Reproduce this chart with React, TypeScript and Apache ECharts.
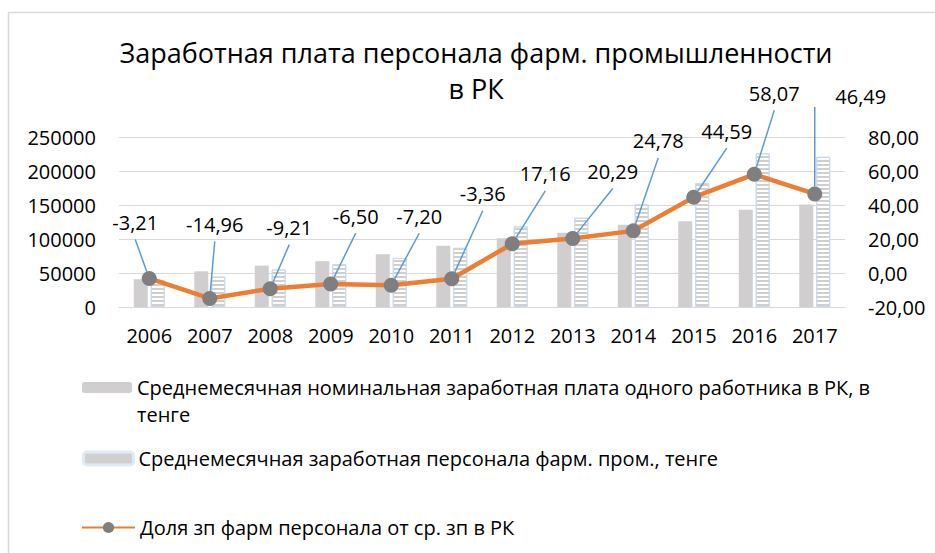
import React, { useEffect, useRef } from 'react';
import * as echarts from 'echarts';

const years = ['2006', '2007', '2008', '2009', '2010', '2011', '2012', '2013', '2014', '2015', '2016', '2017'];
const avgWageRK = [40790, 52479, 60805, 67333, 77611, 90028, 101263, 109141, 121021, 126021, 142898, 150827];
const pharmaWage = [39481, 44628, 55205, 62956, 72023, 87003, 118640, 131286, 151010, 182214, 225879, 220946];
const sharePct = [-3.21, -14.96, -9.21, -6.5, -7.2, -3.36, 17.16, 20.29, 24.78, 44.59, 58.07, 46.49];

const nameRK = 'Среднемесячная номинальная заработная плата одного работника в РК, в тенге';
const namePharma = 'Среднемесячная заработная персонала фарм. пром., тенге';
const nameShare = 'Доля зп фарм персонала от ср. зп в РК';
const titleText = 'Заработная плата персонала фарм. промышленности\nв РК';

// label placement offsets (px) relative to each marker centre
const labelOffsets = [
  [-14, -56], [5, -74], [19, -61], [25, -68], [28, -69], [31, -85],
  [33, -70], [40, -67], [25, -90], [33, -66], [20, -81], [0, -97],
];

const FONT = "'Open Sans', 'Noto Sans', sans-serif";
const fmt = (v: number) => v.toFixed(2).replace('.', ',');

// style of the last label: text shifted right of its vertical leader
const lastLabelStyle = {
  width: 2,
  padding: [0, 26, 0, 118],
  lineHeight: 2,
  backgroundColor: 'rgba(255,255,255,0)',
};

export default function App() {
  const ref = useRef<HTMLDivElement>(null);
  useEffect(() => {
    const chart = echarts.init(ref.current!, null, { renderer: 'svg' });
    const legendText = { fontFamily: FONT, fontSize: 20, color: '#000', lineHeight: 27 };
    const lastIdx = sharePct.length - 1;
    const option: any = {
      animation: false,
      backgroundColor: '#fff',
      graphic: [
        {
          type: 'rect',
          shape: { x: 8.5, y: 12.5, width: 1000, height: 700 },
          style: { fill: 'none', stroke: '#d9d9d9', lineWidth: 1.5 },
          silent: true,
        },
      ],
      title: {
        text: titleText,
        left: 476,
        top: 34,
        padding: 0,
        textAlign: 'center',
        textStyle: { fontFamily: FONT, fontSize: 27, fontWeight: 'normal', color: '#000', lineHeight: 36 },
      },
      legend: [
        {
          data: [nameRK],
          left: 82,
          top: 360,
          padding: 0,
          itemWidth: 50,
          itemHeight: 11,
          formatter: (n: string) => {
            const cut = n.lastIndexOf(' ');
            return '{a|' + n.slice(0, cut) + '}\n{b|' + n.slice(cut + 1) + '}';
          },
          textStyle: {
            ...legendText,
            rich: {
              a: { fontFamily: FONT, fontSize: 20, color: '#000', lineHeight: 54 },
              b: { fontFamily: FONT, fontSize: 20, color: '#000', lineHeight: 1 },
            },
          },
        },
        {
          data: [
            {
              name: namePharma,
              itemStyle: { color: '#d0d0d0', borderColor: '#e1eaf7', borderWidth: 3, decal: 'none' },
            },
          ],
          left: 82,
          top: 445,
          padding: 0,
          itemWidth: 50,
          itemHeight: 13,
          textStyle: legendText,
        },
        {
          data: [nameShare],
          left: 81,
          top: 514,
          padding: 0,
          itemWidth: 53,
          itemHeight: 14,
          textStyle: legendText,
        },
      ],
      grid: { left: 119, right: 90, top: 137, bottom: 246, containLabel: false },
      xAxis: {
        type: 'category',
        data: years,
        axisLine: { lineStyle: { color: '#d9d9d9', width: 1 } },
        axisTick: { show: false },
        axisLabel: { color: '#000', fontSize: 20, fontFamily: FONT, margin: 18 },
      },
      yAxis: [
        {
          type: 'value',
          min: 0,
          max: 250000,
          interval: 50000,
          axisLine: { show: false },
          axisTick: { show: false },
          splitLine: { lineStyle: { color: '#d9d9d9', width: 1 } },
          axisLabel: { color: '#000', fontSize: 20, fontFamily: FONT, margin: 23, formatter: (v: number) => String(v) },
        },
        {
          type: 'value',
          min: -20,
          max: 80,
          interval: 20,
          position: 'right',
          axisLine: { show: false },
          axisTick: { show: false },
          splitLine: { show: false },
          axisLabel: { color: '#000', fontSize: 20, fontFamily: FONT, margin: 23, formatter: fmt },
        },
      ],
      series: [
        {
          name: nameRK,
          type: 'bar',
          yAxisIndex: 0,
          data: avgWageRK,
          barWidth: 14,
          barGap: '21%',
          itemStyle: { color: '#d0cece' },
        },
        {
          name: namePharma,
          type: 'bar',
          yAxisIndex: 0,
          data: pharmaWage,
          barWidth: 14,
          itemStyle: {
            color: '#ffffff',
            borderColor: '#c9daf0',
            borderWidth: 1,
            decal: {
              symbol: 'rect',
              symbolSize: 1,
              symbolKeepAspect: false,
              color: '#cfcfcf',
              backgroundColor: '#ffffff',
              dashArrayX: [1, 0],
              dashArrayY: [2, 2],
              rotation: 0,
            },
          },
        },
        {
          name: nameShare,
          type: 'line',
          yAxisIndex: 1,
          data: sharePct.map((v, i) => (i === lastIdx ? { value: v, label: lastLabelStyle } : v)),
          symbol: 'circle',
          symbolSize: 15,
          z: 5,
          itemStyle: { color: '#7f7f7f' },
          lineStyle: { color: '#ed7d31', width: 4.5 },
          label: {
            show: true,
            formatter: (p: any) => fmt(p.value),
            fontFamily: FONT,
            fontSize: 20,
            color: '#000',
            lineHeight: 34,
          },
          labelLine: { show: true, lineStyle: { color: '#5b9bd5', width: 1.5 } },
          labelLayout: (p: any) => {
            const o = labelOffsets[p.dataIndex];
            return {
              x: p.rect.x + p.rect.width / 2 + o[0],
              y: p.rect.y + p.rect.height / 2 + o[1],
              align: 'center',
              verticalAlign: 'middle',
            };
          },
        },
      ],
    };
    chart.setOption(option);
    return () => chart.dispose();
  }, []);
  return (
    <div
      ref={ref}
      style={{ position: 'fixed', left: 0, top: 0, width: 935, height: 553, background: '#fff' }}
    />
  );
}
